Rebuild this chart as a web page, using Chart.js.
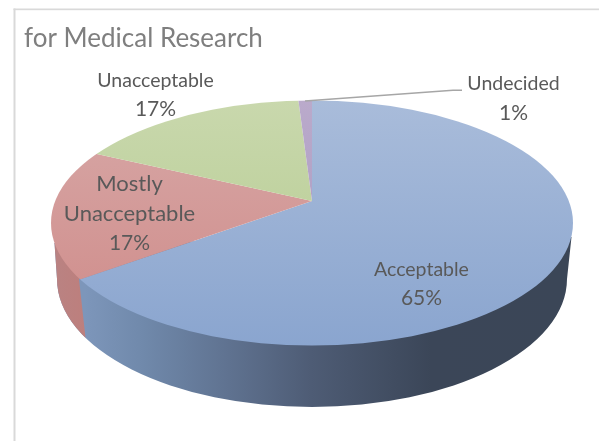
<!DOCTYPE html>
<html>
<head>
<meta charset="utf-8">
<style>html,body{margin:0;padding:0;background:#fff}canvas{display:block}</style>
<script src="https://cdn.jsdelivr.net/npm/chart.js@4"></script>
</head>
<body>
<canvas id="c" width="599" height="441"></canvas>
<script>
const chartTitle = 'for Medical Research';
const categories = ['Acceptable', 'Mostly Unacceptable', 'Unacceptable', 'Undecided'];
const shares = [65, 17, 17, 1];

// view geometry of the tilted pie
const APEX = {x: 312, y: 201}, TILT = 0.465;
const TOP = {x: 312, y: 223, rx: 261, ry: 122.5};
const BASE = {x: 312, y: 279, rx: 255, ry: 128};
const FONT = 'Lato, sans-serif', INK = '#595959';

// top-face colours [upper, lower]
const faceColours = [['#a9bcda', '#8aa5cf'], ['#d7a8a7', '#cf8a88'], ['#c9d8ad', '#b3ca8d'], ['#baaacb', '#a796bf']];
// label layout: lines of name, percent line, centre x, baselines, sizes
const labelLayout = [
  {lines: ['Acceptable'], x: 421.5, ys: [276, 305], size: 19.5, pct: 21},
  {lines: ['Mostly', 'Unacceptable'], x: 129.5, ys: [191, 221, 250], size: 22, pct: 21},
  {lines: ['Unacceptable'], x: 155.5, ys: [87, 116], size: 19.5, pct: 21},
  {lines: ['Undecided'], x: 513.5, ys: [90, 120], size: 19.5, pct: 21}
];

const view = {
  id: 'view',
  beforeDraw(chart) {
    const g = chart.ctx;
    g.save();
    g.fillStyle = '#d9d9d9';
    g.fillRect(13.5, 8.5, 2, 432.5);
    g.fillRect(13.5, 8.5, 585.5, 1.7);
    g.restore();
  },
  beforeDatasetsDraw(chart) {
    const g = chart.ctx;
    const arc = chart.getDatasetMeta(0).data[0];
    // side wall
    const wall = () => {
      g.beginPath();
      g.moveTo(571.5, 237);
      g.lineTo(BASE.x + BASE.rx, BASE.y);
      g.ellipse(BASE.x, BASE.y, BASE.rx, BASE.ry, 0, 0, Math.PI);
      g.lineTo(54.5, 243);
      g.closePath();
    };
    const blue = g.createLinearGradient(85, 0, 566, 0);
    blue.addColorStop(0, '#7d96ba');
    blue.addColorStop(0.12, '#7089ab');
    blue.addColorStop(0.3, '#5f7290');
    blue.addColorStop(0.47, '#4e5c75');
    blue.addColorStop(0.72, '#3b4658');
    blue.addColorStop(1, '#3b4657');
    const red = g.createLinearGradient(51, 0, 85, 0);
    red.addColorStop(0, '#b98383');
    red.addColorStop(1, '#bd7f7d');
    g.save(); wall(); g.fillStyle = blue; g.fill(); g.restore();
    g.save();
    g.beginPath();
    g.moveTo(0, 220); g.lineTo(78.6, 220); g.lineTo(79, 279); g.lineTo(86.3, 345); g.lineTo(0, 345); g.closePath();
    g.clip();
    wall(); g.fillStyle = red; g.fill();
    g.restore();
    // top face: ellipse clip, then the squashed pie about its apex
    g.save();
    g.beginPath();
    g.ellipse(TOP.x, TOP.y, TOP.rx, TOP.ry, 0, 0, Math.PI * 2);
    g.clip();
    g.translate(APEX.x, APEX.y);
    g.scale(1, TILT);
    g.translate(-arc.x, -arc.y);
  },
  afterDatasetsDraw(chart) {
    const g = chart.ctx;
    g.restore();
    // leader line
    g.save();
    g.strokeStyle = '#a6a6a6';
    g.lineWidth = 1.4;
    g.beginPath(); g.moveTo(305, 101); g.lineTo(453, 90.3); g.lineTo(462, 90.3); g.stroke();
    // data labels
    g.fillStyle = INK;
    g.textAlign = 'center';
    g.textBaseline = 'alphabetic';
    labelLayout.forEach((l, i) => {
      g.font = l.size + 'px ' + FONT;
      l.lines.forEach((t, k) => g.fillText(t, l.x, l.ys[k]));
      g.font = l.pct + 'px ' + FONT;
      g.fillText(shares[i] + '%', l.x, l.ys[l.lines.length]);
    });
    g.restore();
  }
};

new Chart(document.getElementById('c'), {
  type: 'pie',
  data: {
    labels: categories,
    datasets: [{
      data: shares,
      clip: false,
      radius: 900,
      borderWidth: 0,
      backgroundColor(c) {
        const area = c.chart.chartArea;
        if (!area) return faceColours[c.dataIndex][0];
        const cy = (area.top + area.bottom) / 2;
        const toUser = y => cy + (y - APEX.y) / TILT;
        const grad = c.chart.ctx.createLinearGradient(0, toUser(100), 0, toUser(346));
        grad.addColorStop(0, faceColours[c.dataIndex][0]);
        grad.addColorStop(1, faceColours[c.dataIndex][1]);
        return grad;
      }
    }]
  },
  plugins: [view],
  options: {
    responsive: false,
    animation: false,
    events: [],
    layout: {padding: {left: 24, top: 23}},
    plugins: {
      legend: {display: false},
      tooltip: {enabled: false},
      title: {
        display: true,
        text: chartTitle,
        align: 'start',
        color: '#7f7f7f',
        font: {family: 'Lato', size: 26, weight: 'normal'},
        padding: 0
      }
    }
  }
});
</script>
</body>
</html>
